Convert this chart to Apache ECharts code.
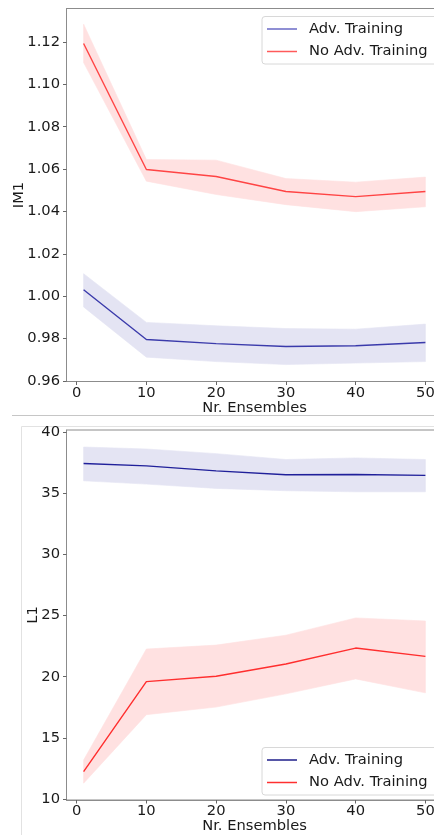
<!DOCTYPE html>
<html>
<head>
<meta charset="utf-8">
<script src="https://cdn.jsdelivr.net/npm/echarts@6/dist/echarts.min.js"></script>
<style>
html,body{margin:0;padding:0;background:#fff;overflow:hidden;width:434px;height:835px;}
#chart{width:470px;height:835px;}
</style>
</head>
<body>
<div id="chart"></div>
<script>
// ---- data ----
var xs = [1, 10, 20, 30, 40, 50];
var xTicks = [0, 10, 20, 30, 40, 50];

var im1Adv     = [1.0030, 0.9795, 0.9776, 0.9762, 0.9766, 0.9781];
var im1AdvLo   = [0.9949, 0.9712, 0.9691, 0.9677, 0.9684, 0.9691];
var im1AdvHi   = [1.0106, 0.9876, 0.9860, 0.9847, 0.9844, 0.9868];
var im1NoAdv   = [1.1193, 1.0598, 1.0565, 1.0494, 1.0470, 1.0494];
var im1NoAdvLo = [1.1103, 1.0543, 1.0480, 1.0432, 1.0399, 1.0422];
var im1NoAdvHi = [1.1284, 1.0645, 1.0642, 1.0555, 1.0538, 1.0562];
var im1Ticks   = [0.96, 0.98, 1.00, 1.02, 1.04, 1.06, 1.08, 1.10, 1.12];

var l1Adv     = [37.41, 37.22, 36.81, 36.49, 36.52, 36.44];
var l1AdvLo   = [36.00, 35.73, 35.38, 35.19, 35.10, 35.10];
var l1AdvHi   = [38.76, 38.60, 38.22, 37.74, 37.87, 37.74];
var l1NoAdv   = [12.25, 19.60, 20.04, 21.04, 22.34, 21.66];
var l1NoAdvLo = [11.30, 16.90, 17.52, 18.60, 19.82, 18.68];
var l1NoAdvHi = [13.19, 22.26, 22.58, 23.39, 24.80, 24.55];
var l1Ticks   = [10, 15, 20, 25, 30, 35, 40];

var seriesNames = ['Adv. Training', 'No Adv. Training'];

// ---- helpers ----
var FONT = 'DejaVu Sans';
var FS = 14.7;
var TXT = '#1a1a1a';
var SPINE = '#8c8c8c';

function pairs(v) { return xs.map(function (x, i) { return [x, v[i]]; }); }

function band(gridIdx, lo, hi, color) {
  return {
    type: 'custom',
    xAxisIndex: gridIdx, yAxisIndex: gridIdx,
    data: xs.map(function (x, i) { return [x, lo[i], hi[i]]; }),
    encode: { x: 0, y: [1, 2] },
    silent: true,
    z: 1,
    renderItem: function (params, api) {
      if (params.dataIndex !== 0) return null;
      var pts = [];
      for (var i = 0; i < xs.length; i++) pts.push(api.coord([xs[i], hi[i]]));
      for (var j = xs.length - 1; j >= 0; j--) pts.push(api.coord([xs[j], lo[j]]));
      return { type: 'polygon', shape: { points: pts }, style: { fill: color, stroke: color, lineWidth: 0.6 } };
    }
  };
}

function line(gridIdx, name, vals, color) {
  return {
    type: 'line', name: name,
    xAxisIndex: gridIdx, yAxisIndex: gridIdx,
    data: pairs(vals),
    showSymbol: false, symbol: 'none',
    lineStyle: { color: color, width: 1.4 },
    itemStyle: { color: color },
    z: 3, silent: true, animation: false
  };
}

function xAxis(gridIdx) {
  return {
    type: 'value', gridIndex: gridIdx,
    min: -1.45, max: 52.45,
    name: 'Nr. Ensembles', nameLocation: 'middle', nameGap: 19, nameMoveOverlap: false,
    nameTextStyle: { fontFamily: FONT, fontSize: FS, color: TXT },
    axisLine: { show: true, onZero: false, lineStyle: { color: SPINE, width: 1 } },
    axisTick: { show: true, length: 3.5, lineStyle: { color: '#666' }, customValues: xTicks },
    axisLabel: { fontFamily: FONT, fontSize: FS, color: TXT, margin: 4, customValues: xTicks,
                 formatter: function (v) { return String(v); } },
    splitLine: { show: false }
  };
}

function yAxis(gridIdx, name, min, max, ticks, dec, gap) {
  return {
    type: 'value', gridIndex: gridIdx,
    min: min, max: max,
    name: name, nameLocation: 'middle', nameGap: gap, nameMoveOverlap: false,
    nameTextStyle: { fontFamily: FONT, fontSize: FS, color: TXT },
    axisLine: { show: true, onZero: false, lineStyle: { color: SPINE, width: 1 } },
    axisTick: { show: true, length: 3.5, lineStyle: { color: '#666' }, customValues: ticks },
    axisLabel: { fontFamily: FONT, fontSize: FS, color: TXT, margin: 6.5, customValues: ticks,
                 formatter: function (v) { return v.toFixed(dec); } },
    splitLine: { show: false }
  };
}

function legend(top, blue, red) {
  return {
    left: 262, top: top,
    orient: 'vertical',
    backgroundColor: '#fff',
    borderColor: '#d8d8d8', borderWidth: 1, borderRadius: 3,
    padding: [5, 10, 5, 5],
    itemWidth: 30, itemHeight: 14, itemGap: 7.5,
    textStyle: { fontFamily: FONT, fontSize: FS, color: TXT, padding: [0, 0, 0, 7] },
    selectedMode: false,
    data: [
      { name: seriesNames[0], icon: 'path://M0,0 L30,0 L30,1.5 L0,1.5 Z', itemStyle: { color: blue } },
      { name: seriesNames[1], icon: 'path://M0,0 L30,0 L30,1.5 L0,1.5 Z', itemStyle: { color: red } }
    ]
  };
}

var chart = echarts.init(document.getElementById('chart'), null, { renderer: 'canvas' });
chart.setOption({
  animation: false,
  backgroundColor: '#fff',
  grid: [
    { left: 66.5, top: 8.5, width: 376, height: 373, show: true, borderColor: SPINE, borderWidth: 1, backgroundColor: 'transparent' },
    { left: 66.5, top: 430, width: 376, height: 371.5, show: true, borderColor: SPINE, borderWidth: 1, backgroundColor: 'transparent' }
  ],
  xAxis: [xAxis(0), xAxis(1)],
  yAxis: [
    yAxis(0, 'IM1', 0.9597, 1.1358, im1Ticks, 2, 40),
    yAxis(1, 'L1', 9.93, 40.15, l1Ticks, 0, 26)
  ],
  legend: [legend(16.5, '#6a6ac6', '#ff5a5a'), legend(747.5, '#1e1e8a', '#ff3030')],
  graphic: [
    { type: 'line', shape: { x1: 12, y1: 415.5, x2: 470, y2: 415.5 }, style: { stroke: '#c6c6c6', lineWidth: 1 }, silent: true },
    { type: 'rect', shape: { x: 21.5, y: 426.5, width: 600, height: 600 }, style: { fill: 'none', stroke: '#e2e2e2', lineWidth: 1 }, silent: true }
  ],
  series: [
    band(0, im1NoAdvLo, im1NoAdvHi, '#ffe1e1'),
    band(0, im1AdvLo, im1AdvHi, '#e4e4f3'),
    line(0, seriesNames[0], im1Adv, '#3b3bab'),
    line(0, seriesNames[1], im1NoAdv, '#ff4444'),
    band(1, l1NoAdvLo, l1NoAdvHi, '#ffe1e1'),
    band(1, l1AdvLo, l1AdvHi, '#e4e4f3'),
    line(1, seriesNames[0], l1Adv, '#20209a'),
    line(1, seriesNames[1], l1NoAdv, '#ff2e2e')
  ]
});
</script>
</body>
</html>
